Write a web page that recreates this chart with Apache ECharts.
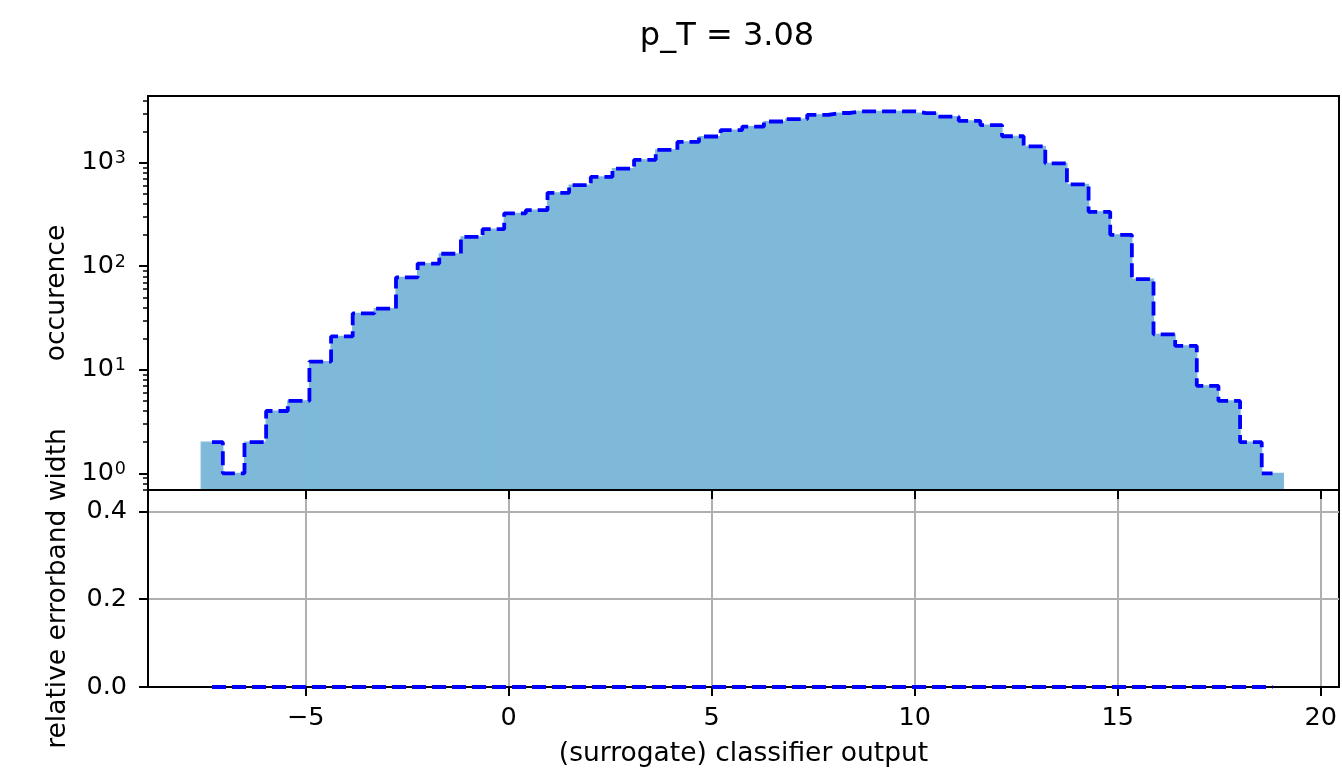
<!DOCTYPE html>
<html>
<head>
<meta charset="utf-8">
<script src="https://cdn.jsdelivr.net/npm/echarts@6/dist/echarts.min.js"></script>
<style>
html,body{margin:0;padding:0;background:#fff;}
#chart{width:1342px;height:773px;}
</style>
</head>
<body>
<div id="chart"></div>
<script>
// ---- data ----
const titleText = 'p_T = 3.08';
const xLabel = '(surrogate) classifier output';
const yTopLabel = 'occurence';
const yBottomLabel = 'relative errorband width';

// histogram: 50 equal bins between these edges
const binStart = -7.57;
const binEnd = 19.08;
const counts = [
  2, 1, 2, 4, 5, 12, 21, 35, 39, 78,
  106, 132, 192, 228, 324, 348, 512, 608, 729, 878,
  1065, 1330, 1585, 1790, 2065, 2230, 2500, 2630, 2900, 3020,
  3130, 3130, 3125, 3010, 2780, 2530, 2310, 1800, 1435, 985,
  618, 335, 201, 75, 22, 17, 7, 5, 2, 1
];
// relative errorband width per bin (bottom panel)
const relErr = [
  0, 0, 0, 0, 0, 0, 0, 0, 0, 0,
  0, 0, 0, 0, 0, 0, 0, 0, 0, 0,
  0, 0, 0, 0, 0, 0, 0, 0, 0, 0,
  0, 0, 0, 0, 0, 0, 0, 0, 0, 0,
  0, 0, 0, 0, 0, 0, 0, 0, 0, 0
];

// axis ranges and ticks
const xMin = -8.88, xMax = 20.45;
const xTicks = [-5, 0, 5, 10, 15, 20];
const yTopMin = 0.69, yTopMax = 4406;
const logMajorTicks = [1, 10, 100, 1000];
const logMinorTicks = [0.7, 0.8, 0.9, 2, 3, 4, 5, 6, 7, 8, 9, 20, 30, 40, 50, 60, 70, 80, 90,
  200, 300, 400, 500, 600, 700, 800, 900, 2000, 3000, 4000];
const yBotMin = 0, yBotMax = 0.4484;
const yBotTicks = [0, 0.2, 0.4];

// ---- build series data from the arrays ----
const nBins = counts.length;
const binW = (binEnd - binStart) / nBins;
const histRects = counts.map((c, i) => [binStart + i * binW, binStart + (i + 1) * binW, c]);
const histLine = counts.map((c, i) => [binStart + (i + 0.5) * binW, c]);
const relLine = relErr.map((v, i) => [binStart + (i + 0.5) * binW, v]);

const FONT = 'DejaVu Sans';
const TICK_FS = 25.5;
const LABEL_FS = 26.5;
const fillColor = '#7fb9da';
const lineBlue = '#0000ff';
const black = '#000000';
const gridGray = '#b0b0b0';

const chart = echarts.init(document.getElementById('chart'), null, {renderer: 'canvas'});

const minusFmt = v => (v < 0 ? '\u2212' + Math.abs(v) : String(v));

chart.setOption({
  animation: false,
  backgroundColor: '#fff',
  textStyle: {fontFamily: FONT, color: black},
  title: {
    text: titleText,
    left: 722,
    top: 16,
    textAlign: 'center',
    textStyle: {fontFamily: FONT, fontSize: 32, fontWeight: 'normal', color: black}
  },
  grid: [
    {left: 148, right: 3, top: 96, height: 394, show: true, borderColor: black, borderWidth: 2, backgroundColor: 'transparent'},
    {left: 148, right: 3, top: 490, height: 197, show: true, borderColor: black, borderWidth: 2, backgroundColor: 'transparent'}
  ],
  xAxis: [
    {
      gridIndex: 0, type: 'value', min: xMin, max: xMax, z: 5,
      axisLine: {show: true, onZero: false, lineStyle: {color: black, width: 2}},
      axisTick: {show: true, inside: false, length: 9, customValues: xTicks, lineStyle: {color: black, width: 2}},
      axisLabel: {show: false},
      splitLine: {show: false}
    },
    {
      gridIndex: 1, type: 'value', min: xMin, max: xMax,
      axisLine: {show: true, onZero: false, lineStyle: {color: black, width: 2}},
      axisTick: {show: true, inside: false, length: 9, customValues: xTicks, lineStyle: {color: black, width: 2}},
      axisLabel: {show: true, customValues: xTicks, formatter: minusFmt, fontSize: TICK_FS, fontFamily: FONT, color: black, margin: 18},
      splitLine: {show: true, lineStyle: {color: gridGray, width: 2}},
      name: xLabel, nameLocation: 'middle', nameGap: 54,
      nameTextStyle: {fontSize: LABEL_FS, fontFamily: FONT, color: black}
    }
  ],
  yAxis: [
    {
      gridIndex: 0, type: 'log', logBase: 10, min: yTopMin, max: yTopMax, position: 'left',
      axisLine: {show: true, onZero: false, lineStyle: {color: black, width: 2}},
      axisTick: {show: true, inside: false, length: 9, customValues: logMajorTicks, lineStyle: {color: black, width: 2}},
      axisLabel: {
        show: true, customValues: logMajorTicks, margin: 22,
        formatter: v => '{a|10}{b|' + Math.round(Math.log10(v)) + '}',
        rich: {
          a: {fontSize: TICK_FS, fontFamily: FONT, color: black, lineHeight: 26, verticalAlign: 'bottom'},
          b: {fontSize: 17.5, fontFamily: FONT, color: black, lineHeight: 18, verticalAlign: 'top', padding: [0, 0, 10, 1]}
        }
      },
      splitLine: {show: false},
      name: yTopLabel, nameLocation: 'middle', nameGap: 76, nameRotate: 90,
      nameTextStyle: {fontSize: LABEL_FS, fontFamily: FONT, color: black}
    },
    {
      gridIndex: 0, type: 'log', logBase: 10, min: yTopMin, max: yTopMax, position: 'left', offset: 0,
      axisLine: {show: false, onZero: false},
      axisTick: {show: true, inside: false, length: 5, customValues: logMinorTicks, lineStyle: {color: black, width: 1.5}},
      axisLabel: {show: false},
      splitLine: {show: false}
    },
    {
      gridIndex: 1, type: 'value', min: yBotMin, max: yBotMax, interval: 0.2, position: 'left',
      axisLine: {show: true, onZero: false, lineStyle: {color: black, width: 2}},
      axisTick: {show: true, inside: false, length: 9, customValues: yBotTicks, lineStyle: {color: black, width: 2}},
      axisLabel: {show: true, customValues: yBotTicks, formatter: v => v.toFixed(1), fontSize: TICK_FS, fontFamily: FONT, color: black, margin: 21},
      splitLine: {show: true, lineStyle: {color: gridGray, width: 2}},
      name: yBottomLabel, nameLocation: 'middle', nameGap: 76, nameRotate: 90,
      nameTextStyle: {fontSize: LABEL_FS, fontFamily: FONT, color: black}
    }
  ],
  series: [
    {
      type: 'custom', xAxisIndex: 0, yAxisIndex: 0, z: 2,
      data: histRects,
      encode: {x: [0, 1], y: 2},
      renderItem: function (params, api) {
        const x0 = api.value(0), x1 = api.value(1), v = api.value(2);
        const p0 = api.coord([x0, v]);
        const p1 = api.coord([x1, v]);
        const cs = params.coordSys;
        const bottom = cs.y + cs.height;
        return {
          type: 'rect',
          shape: {x: p0[0], y: p0[1], width: p1[0] - p0[0], height: bottom - p0[1]},
          style: {fill: fillColor, stroke: fillColor, lineWidth: 1.2}
        };
      }
    },
    {
      type: 'line', xAxisIndex: 0, yAxisIndex: 0, z: 4,
      data: histLine, step: 'middle', showSymbol: false, symbol: 'none',
      lineStyle: {color: lineBlue, width: 3.8, type: [14, 6]}
    },
    {
      type: 'line', xAxisIndex: 1, yAxisIndex: 2, z: 6, zlevel: 0, clip: false,
      data: relLine, showSymbol: false, symbol: 'none',
      lineStyle: {color: lineBlue, width: 4, type: [14, 6]}
    }
  ]
});
</script>
</body>
</html>
